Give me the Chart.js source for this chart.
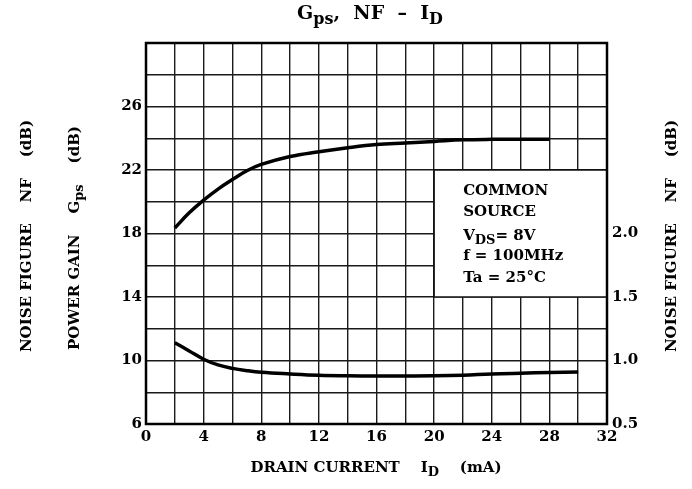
<!DOCTYPE html>
<html>
<head>
<meta charset="utf-8">
<script src="https://cdn.jsdelivr.net/npm/chart.js@4/dist/chart.umd.min.js"></script>
<style>
html,body{margin:0;padding:0;background:#fff;}
#wrap{width:692px;height:489px;position:relative;}
</style>
</head>
<body>
<div id="wrap"><canvas id="c" width="692" height="489"></canvas></div>
<script>
// ---- data ----
const gpsCurrent = [2, 3, 4, 5, 6, 7, 8, 10, 12, 14, 16, 18, 20, 22, 24, 26, 28];
const gpsValues  = [18.35, 19.3, 20.1, 20.8, 21.4, 21.95, 22.35, 22.85, 23.15, 23.4, 23.6, 23.7, 23.8, 23.9, 23.93, 23.93, 23.93];
const nfCurrent  = [2, 3, 4, 5, 6, 7, 8, 10, 12, 14, 16, 18, 20, 22, 24, 26, 28, 30];
const nfValues   = [1.14, 1.075, 1.01, 0.965, 0.938, 0.92, 0.907, 0.894, 0.884, 0.88, 0.878, 0.878, 0.879, 0.884, 0.894, 0.9, 0.905, 0.91];
const xTickLabels = [0, 4, 8, 12, 16, 20, 24, 28, 32];
const leftTickLabels = [6, 10, 14, 18, 22, 26];
const rightTickLabels = ['0.5', '1.0', '1.5', '2.0'];
const titleParts = [['G', 0], ['ps', 1], [',  NF  –  I', 0], ['D', 1]];
const xTitleParts = [['DRAIN CURRENT    I', 0], ['D', 1], ['    (mA)', 0]];
const leftTitle1Parts = [['NOISE FIGURE    NF    (dB)', 0]];
const leftTitle2Parts = [['POWER GAIN    G', 0], ['ps', 1], ['    (dB)', 0]];
const rightTitleParts = [['NOISE FIGURE    NF    (dB)', 0]];
const noteLines = [[['COMMON', 0]], [['SOURCE', 0]], [['V', 0], ['DS', 1], ['= 8V', 0]], [['f = 100MHz', 0]], [['Ta = 25°C', 0]]];
const noteBox = {x0: 20, x1: 32, y0: 14, y1: 22};

const FONT = "'DejaVu Serif', serif";

function drawRich(ctx, parts, x, y, size, align, weight) {
  const wt = weight || 'normal';
  const subSize = Math.round(size * 0.85);
  let w = 0;
  const widths = parts.map(p => {
    ctx.font = wt + ' ' + (p[1] ? subSize : size) + 'px ' + FONT;
    const m = ctx.measureText(p[0]).width;
    w += m; return m;
  });
  let cx = align === 'center' ? x - w / 2 : x;
  ctx.textBaseline = 'middle';
  ctx.textAlign = 'left';
  parts.forEach((p, i) => {
    ctx.font = wt + ' ' + (p[1] ? subSize : size) + 'px ' + FONT;
    ctx.fillText(p[0], cx, p[1] ? y + size * 0.3 : y);
    cx += widths[i];
  });
}

const decor = {
  id: 'decor',
  beforeDatasetsDraw(chart) {
    const ctx = chart.ctx, xs = chart.scales.x, ys = chart.scales.y;
    const bx0 = xs.getPixelForValue(noteBox.x0), bx1 = xs.getPixelForValue(noteBox.x1);
    const by0 = ys.getPixelForValue(noteBox.y1), by1 = ys.getPixelForValue(noteBox.y0);
    ctx.save();
    ctx.fillStyle = '#fff';
    ctx.fillRect(bx0, by0, bx1 - bx0, by1 - by0);
    ctx.strokeStyle = '#111';
    ctx.lineWidth = 1.5;
    ctx.strokeRect(bx0, by0, bx1 - bx0, by1 - by0);
    ctx.fillStyle = '#000';
    const tx = bx0 + 29;
    const lineYs = [20.65, 19.35, 17.85, 16.55, 15.2];
    noteLines.forEach((ln, i) => drawRich(ctx, ln, tx, ys.getPixelForValue(lineYs[i]), 15, 'left', 'bold'));
    ctx.restore();
  },
  afterDraw(chart) {
    const ctx = chart.ctx, a = chart.chartArea;
    ctx.save();
    ctx.strokeStyle = '#000';
    ctx.lineWidth = 2.5;
    ctx.strokeRect(a.left, a.top, a.right - a.left, a.bottom - a.top);
    ctx.fillStyle = '#000';
    drawRich(ctx, titleParts, 370, 14, 19, 'center', 'bold');
    drawRich(ctx, xTitleParts, 376, 468, 15, 'center', 'bold');
    ctx.save(); ctx.translate(27, 236); ctx.rotate(-Math.PI / 2);
    drawRich(ctx, leftTitle1Parts, 0, 0, 15, 'center', 'bold'); ctx.restore();
    ctx.save(); ctx.translate(75, 238); ctx.rotate(-Math.PI / 2);
    drawRich(ctx, leftTitle2Parts, 0, 0, 15, 'center', 'bold'); ctx.restore();
    ctx.save(); ctx.translate(672, 236); ctx.rotate(-Math.PI / 2);
    drawRich(ctx, rightTitleParts, 0, 0, 15, 'center', 'bold'); ctx.restore();
    ctx.restore();
  }
};

const gridOpts = {color: '#1a1a1a', lineWidth: 1.4, drawTicks: false};
const tickFont = {family: FONT, size: 15, weight: 'bold'};

new Chart(document.getElementById('c'), {
  type: 'line',
  data: {
    datasets: [
      {label: 'Gps', data: gpsCurrent.map((x, i) => ({x, y: gpsValues[i]})), yAxisID: 'y',
       borderColor: '#000', borderWidth: 3.5, pointRadius: 0, tension: 0.4, fill: false},
      {label: 'NF', data: nfCurrent.map((x, i) => ({x, y: nfValues[i]})), yAxisID: 'y2',
       borderColor: '#000', borderWidth: 3.5, pointRadius: 0, tension: 0.4, fill: false}
    ]
  },
  options: {
    responsive: false,
    animation: false,
    layout: {padding: {top: 43, left: 0, right: 0, bottom: 0}},
    plugins: {legend: {display: false}, tooltip: {enabled: false}, title: {display: false}},
    scales: {
      x: {type: 'linear', min: 0, max: 32,
          grid: gridOpts, border: {display: false},
          ticks: {stepSize: 2, color: '#000', font: tickFont, padding: 4, maxRotation: 0, autoSkip: false,
                  callback: v => xTickLabels.includes(v) ? String(v) : ''},
          afterFit: s => { s.height = 65; }},
      y: {type: 'linear', position: 'left', min: 6, max: 30,
          grid: gridOpts, border: {display: false},
          ticks: {stepSize: 2, color: '#000', font: tickFont, padding: 4, autoSkip: false,
                  callback: v => leftTickLabels.includes(v) ? String(v) : ''},
          afterFit: s => { s.width = 146; }},
      y2: {type: 'linear', position: 'right', min: 0.5, max: 3.5,
           grid: {display: false, drawTicks: false}, border: {display: false},
           ticks: {stepSize: 0.5, color: '#000', font: tickFont, padding: 5, autoSkip: false,
                   callback: v => { const s = v.toFixed(1); return rightTickLabels.includes(s) ? s : ''; }},
           afterFit: s => { s.width = 85; }}
    }
  },
  plugins: [decor]
});
</script>
</body>
</html>
